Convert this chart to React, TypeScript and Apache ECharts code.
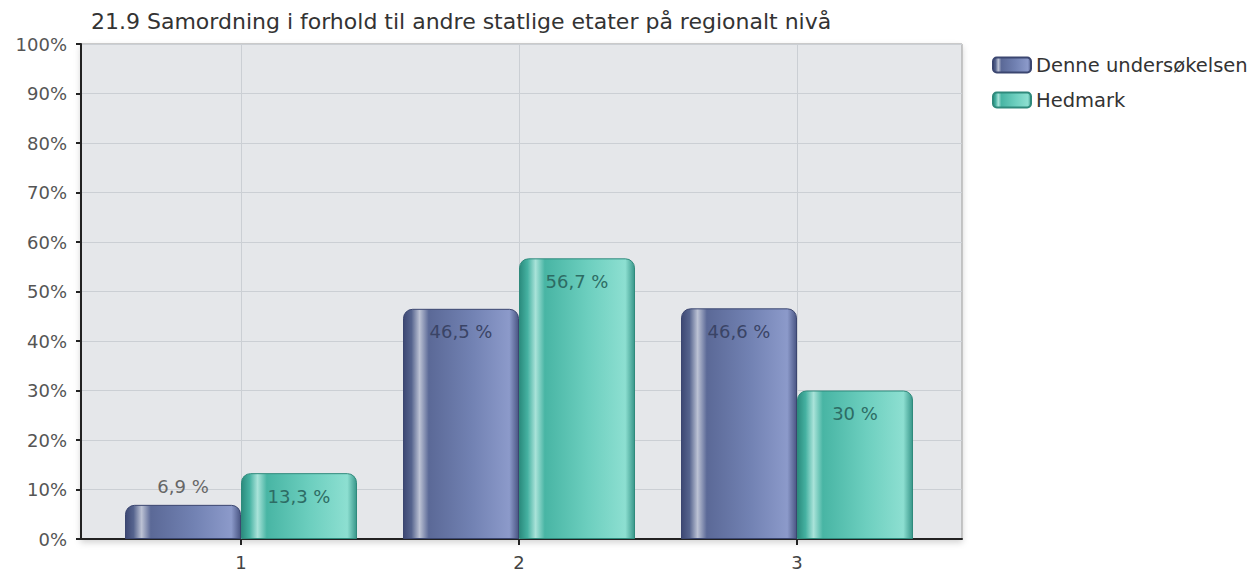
import React, { useEffect, useRef } from "react";
import * as echarts from "echarts";

const title = "21.9 Samordning i forhold til andre statlige etater på regionalt nivå";
const categories = ["1", "2", "3"];
const seriesNames = ["Denne undersøkelsen", "Hedmark"];
const denneValues = [6.9, 46.5, 46.6];
const hedmarkValues = [13.3, 56.7, 30];
const yTicks = [0, 10, 20, 30, 40, 50, 60, 70, 80, 90, 100];

const FONT = "DejaVu Sans, Verdana, sans-serif";

const blueGrad = () =>
  new echarts.graphic.LinearGradient(0, 0, 1, 0, [
    { offset: 0, color: "#3d4874" },
    { offset: 0.07, color: "#56648e" },
    { offset: 0.14, color: "#bcc2d4" },
    { offset: 0.22, color: "#5b6997" },
    { offset: 0.6, color: "#7282b3" },
    { offset: 0.92, color: "#8c9aca" },
    { offset: 1, color: "#4a5684" },
  ]);
const tealGrad = () =>
  new echarts.graphic.LinearGradient(0, 0, 1, 0, [
    { offset: 0, color: "#2a8b7d" },
    { offset: 0.07, color: "#45b1a1" },
    { offset: 0.14, color: "#a9e3d9" },
    { offset: 0.22, color: "#48b5a4" },
    { offset: 0.6, color: "#6dcfbf" },
    { offset: 0.92, color: "#8ddfd1" },
    { offset: 1, color: "#38978a" },
  ]);

const fmt = (v: number) => String(v).replace(".", ",") + " %";

function barData(values: number[], labelColor: string) {
  return values.map((v) => ({
    value: v,
    label: {
      show: true,
      position: v < 10 ? "top" : "insideTop",
      distance: v < 10 ? 9 : 14,
      color: v < 10 ? "#666" : labelColor,
      fontSize: 18,
      fontFamily: FONT,
      formatter: () => fmt(v),
    },
  }));
}

export default function App() {
  const ref = useRef<HTMLDivElement>(null);
  useEffect(() => {
    if (!ref.current) return;
    const chart = echarts.init(ref.current, null, { renderer: "svg" });
    chart.setOption({
      animation: false,
      backgroundColor: "#ffffff",
      title: {
        text: title,
        left: 86,
        top: 5,
        textStyle: { fontFamily: FONT, fontSize: 22, fontWeight: "normal", color: "#333" },
      },
      legend: {
        orient: "vertical",
        left: 992,
        top: 55,
        padding: 0,
        itemWidth: 38,
        itemHeight: 15,
        itemGap: 15,
        icon: "roundRect",
        textStyle: { fontFamily: FONT, fontSize: 19.5, color: "#333" },
        data: seriesNames,
      },
      grid: [
        {
          left: 81,
          top: 44,
          width: 881,
          height: 495,
          show: true,
          backgroundColor: "#e5e7ea",
          borderColor: "#9a9a9a",
          borderWidth: 1,
          shadowColor: "rgba(0,0,0,0.18)",
          shadowBlur: 6,
          shadowOffsetY: 3,
        },
        { left: 102, top: 44, width: 834, height: 495 },
      ],
      xAxis: [
        {
          gridIndex: 0,
          type: "category",
          data: [""],
          axisLine: { show: true, lineStyle: { color: "#222", width: 2 } },
          axisTick: { show: false },
          axisLabel: { show: false },
          splitLine: { show: false },
        },
        {
          gridIndex: 1,
          type: "category",
          data: categories,
          axisLine: { show: false },
          axisTick: { show: true, alignWithLabel: true, length: 6, lineStyle: { color: "#222", width: 2 } },
          axisLabel: { margin: 14, fontFamily: FONT, fontSize: 18, color: "#444" },
          splitLine: { show: false },
        },
      ],
      yAxis: [
        {
          gridIndex: 0,
          type: "value",
          min: yTicks[0],
          max: yTicks[yTicks.length - 1],
          interval: 10,
          axisLine: { show: true, lineStyle: { color: "#222", width: 2 } },
          axisTick: { show: true, length: 5, lineStyle: { color: "#222", width: 2 } },
          axisLabel: { formatter: "{value}%", margin: 14, fontFamily: FONT, fontSize: 18, color: "#555" },
          splitLine: { show: true, lineStyle: { color: "#cbcfd4", width: 1 } },
        },
        {
          gridIndex: 1,
          type: "value",
          min: 0,
          max: 100,
          interval: 10,
          show: false,
        },
      ],
      series: [
        {
          type: "line",
          xAxisIndex: 1,
          yAxisIndex: 1,
          z: 1,
          silent: true,
          data: [],
          markLine: {
            silent: true,
            z: 1,
            symbol: "none",
            label: { show: false },
            lineStyle: { color: "#cbcfd4", width: 1, type: "solid" },
            data: categories.map((c) => ({ xAxis: c })),
          },
        },
        {
          name: seriesNames[0],
          type: "bar",
          xAxisIndex: 1,
          yAxisIndex: 1,
          barWidth: 116,
          barGap: "0%",
          z: 3,
          itemStyle: {
            color: blueGrad(),
            borderRadius: [9, 9, 0, 0],
            borderColor: "#3b4670",
            borderWidth: 1,
          },
          data: barData(denneValues, "#3a4466"),
        },
        {
          name: seriesNames[1],
          type: "bar",
          xAxisIndex: 1,
          yAxisIndex: 1,
          barWidth: 116,
          barGap: "0%",
          z: 3,
          itemStyle: {
            color: tealGrad(),
            borderRadius: [9, 9, 0, 0],
            borderColor: "#2f8a7c",
            borderWidth: 1,
          },
          data: barData(hedmarkValues, "#2d6c64"),
        },
      ],
    });
    return () => chart.dispose();
  }, []);
  return (
    <div
      ref={ref}
      style={{ position: "fixed", left: 0, top: 0, width: 1254, height: 576 }}
    />
  );
}
